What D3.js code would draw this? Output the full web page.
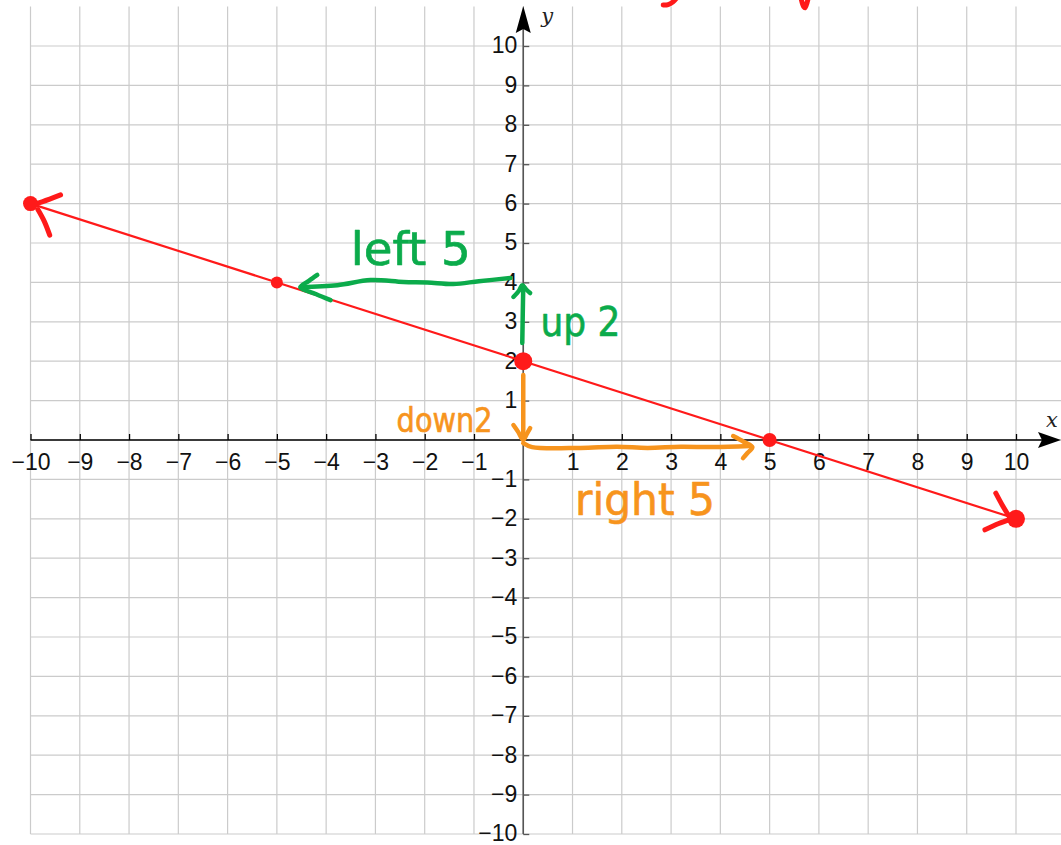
<!DOCTYPE html>
<html>
<head>
<meta charset="utf-8">
<script src="https://cdn.jsdelivr.net/npm/d3@7"></script>
<style>
  html, body { margin: 0; padding: 0; background: #fff; }
  svg { display: block; }
  .tick text { font-family: "Liberation Sans", Arial, sans-serif; font-size: 23px; fill: #111; }
  .hand { font-family: "Liberation Sans Narrow", "DejaVu Sans Condensed", sans-serif; }
</style>
</head>
<body>
<svg id="chart" width="1061" height="845"></svg>
<script>
// Integer ticks on both axes (zero is left unlabelled at the origin)
const xTicks = [-10, -9, -8, -7, -6, -5, -4, -3, -2, -1, 1, 2, 3, 4, 5, 6, 7, 8, 9, 10];
const yTicks = [-10, -9, -8, -7, -6, -5, -4, -3, -2, -1, 1, 2, 3, 4, 5, 6, 7, 8, 9, 10];
const gridValues = d3.range(-10, 11);

// Line y = -0.4x + 2 drawn across the window
const lineEnds = [[-10, 6], [10, -2]];
// Plotted points on the line and their dot radii
const pointX = [-10, -5, 0, 5, 10];
const pointY = [6, 4, 2, 0, -2];
const pointR = [7.5, 6, 9, 7, 9];

// Hand-drawn arrowheads at both ends of the line (data units)
const redHeads = [
  [[-9.39, 6.22], [-9.75, 6.05], [-9.93, 5.98]],
  [[-9.85, 5.85], [-9.72, 5.55], [-9.61, 5.2]],
  [[9.59, -1.35], [9.72, -1.65], [9.85, -1.92]],
  [[9.37, -2.28], [9.65, -2.12], [9.9, -2.0]]
];
// Partial red strokes along the top edge
const redTop = [
  [[2.84, 11.04], [2.94, 11.05], [3.04, 11.12], [3.1, 11.2]],
  [[5.64, 11.2], [5.69, 11.0], [5.72, 10.97], [5.78, 11.2]]
];

// "up 2, left 5" : green path from (0,2) to (-5,4)
const greenPaths = [
  [[-0.02, 2.46], [-0.01, 3.2], [0.0, 3.9]],
  [[-0.2, 3.63], [-0.08, 3.8], [-0.02, 3.93], [0.06, 3.82], [0.14, 3.73]],
  [[-0.26, 4.11], [-0.9, 4.03], [-1.42, 3.96], [-1.95, 4.0], [-2.43, 4.01], [-3.1, 4.06], [-3.77, 3.93], [-4.52, 3.88]],
  [[-4.18, 4.19], [-4.35, 4.04], [-4.52, 3.88], [-4.2, 3.7], [-3.91, 3.55]]
];
// "down 2, right 5" : orange path from (0,2) to (5,0)
const orangePaths = [
  [[0.0, 1.65], [0.0, 0.9], [0.0, 0.05]],
  [[-0.2, 0.38], [-0.1, 0.2], [0.0, 0.0], [0.07, 0.15], [0.14, 0.3]],
  [[0.0, -0.08], [0.18, -0.18], [1.16, -0.2], [1.9, -0.17], [2.52, -0.2], [3.2, -0.17], [3.85, -0.18], [4.6, -0.15]],
  [[4.26, 0.1], [4.48, -0.05], [4.65, -0.18], [4.55, -0.33], [4.46, -0.46]]
];
// Handwritten labels: text, anchor (data units), width and size
const notes = [
  { text: "left 5", x: -3.5, y: 4.45, w: 120, size: 46, color: "green" },
  { text: "up 2", x: 0.35, y: 2.65, w: 80, size: 40, color: "green" },
  { text: "down2", x: -2.57, y: 0.2, w: 96, size: 34, color: "orange" },
  { text: "right 5", x: 1.05, y: -1.9, w: 140, size: 44, color: "orange" }
];
const colors = { red: "#ff1a1a", green: "#0bab4b", orange: "#f7941d" };

const W = 1061, H = 845;
const svg = d3.select("#chart");
const x = d3.scaleLinear().domain([-10, 10]).range([30.5, 1016]);
const y = d3.scaleLinear().domain([-10, 10]).range([834, 46]);

// Grid
const grid = svg.append("g").attr("stroke", "#cbcbcb").attr("stroke-width", 1.2);
grid.selectAll("line.v").data(gridValues).join("line")
  .attr("class", "v")
  .attr("x1", d => x(d)).attr("x2", d => x(d))
  .attr("y1", y(-10)).attr("y2", y(11));
grid.selectAll("line.h").data(gridValues).join("line")
  .attr("class", "h")
  .attr("x1", x(-10)).attr("x2", W)
  .attr("y1", d => y(d)).attr("y2", d => y(d));

// x axis
const xAxis = svg.append("g")
  .attr("transform", `translate(0,${y(0)})`)
  .call(d3.axisBottom(x).tickValues(xTicks).tickSizeInner(-6).tickSizeOuter(0).tickPadding(13.5));
xAxis.select(".domain").remove();
xAxis.selectAll(".tick line").attr("stroke", "#000").attr("stroke-width", 1.3);
svg.append("line")
  .attr("x1", x(-10)).attr("x2", W - 10)
  .attr("y1", y(0)).attr("y2", y(0))
  .attr("stroke", "#000").attr("stroke-width", 1.6);
svg.append("path")
  .attr("d", `M${W},${y(0)} L${W - 23},${y(0) - 8} L${W - 19},${y(0)} L${W - 23},${y(0) + 8} Z`)
  .attr("fill", "#000");

// y axis
const yAxis = svg.append("g")
  .attr("transform", `translate(${x(0)},0)`)
  .call(d3.axisLeft(y).tickValues(yTicks).tickSizeInner(-6).tickSizeOuter(0).tickPadding(6));
yAxis.select(".domain").remove();
yAxis.selectAll(".tick line").attr("stroke", "#555").attr("stroke-width", 1.3);
yAxis.selectAll(".tick text").attr("dy", "0.3em");
svg.append("line")
  .attr("x1", x(0)).attr("x2", x(0))
  .attr("y1", y(-10)).attr("y2", 20)
  .attr("stroke", "#555").attr("stroke-width", 1.6);
svg.append("path")
  .attr("d", `M${x(0)},6 L${x(0) - 7.5},${33} L${x(0)},${29} L${x(0) + 7.5},${33} Z`)
  .attr("fill", "#000");

// Axis names
svg.append("text").text("y")
  .attr("x", x(0) + 18).attr("y", 23)
  .attr("font-family", "'DejaVu Serif', 'Liberation Serif', serif")
  .attr("font-style", "italic").attr("font-size", 21).attr("fill", "#222");
svg.append("text").text("x")
  .attr("x", W - 15).attr("y", 427)
  .attr("font-family", "'DejaVu Serif', 'Liberation Serif', serif")
  .attr("font-style", "italic").attr("font-size", 21).attr("fill", "#222");

const curve = d3.line().x(d => x(d[0])).y(d => y(d[1])).curve(d3.curveCatmullRom);

// Red line and points
svg.append("line")
  .attr("x1", x(lineEnds[0][0])).attr("y1", y(lineEnds[0][1]))
  .attr("x2", x(lineEnds[1][0])).attr("y2", y(lineEnds[1][1]))
  .attr("stroke", colors.red).attr("stroke-width", 2.2);

svg.append("g").selectAll("path").data(redHeads.concat(redTop)).join("path")
  .attr("d", curve).attr("fill", "none")
  .attr("stroke", colors.red).attr("stroke-width", 5)
  .attr("stroke-linecap", "round").attr("stroke-linejoin", "round");

svg.append("g").selectAll("circle").data(pointX).join("circle")
  .attr("cx", d => x(d))
  .attr("cy", (d, i) => y(pointY[i]))
  .attr("r", (d, i) => pointR[i])
  .attr("fill", colors.red);

// Step annotations
const strokeGroup = (paths, color) => svg.append("g").selectAll("path").data(paths).join("path")
  .attr("d", curve).attr("fill", "none")
  .attr("stroke", color).attr("stroke-width", 4.5)
  .attr("stroke-linecap", "round").attr("stroke-linejoin", "round");
strokeGroup(greenPaths, colors.green);
strokeGroup(orangePaths, colors.orange);

svg.append("g").selectAll("text").data(notes).join("text")
  .attr("class", "hand")
  .attr("x", d => x(d.x)).attr("y", d => y(d.y))
  .attr("font-size", d => d.size)
  .attr("textLength", d => d.w)
  .attr("lengthAdjust", "spacingAndGlyphs")
  .attr("fill", d => colors[d.color])
  .attr("stroke", d => colors[d.color])
  .attr("stroke-width", 0.6)
  .attr("stroke-linejoin", "round")
  .text(d => d.text);
</script>
</body>
</html>
